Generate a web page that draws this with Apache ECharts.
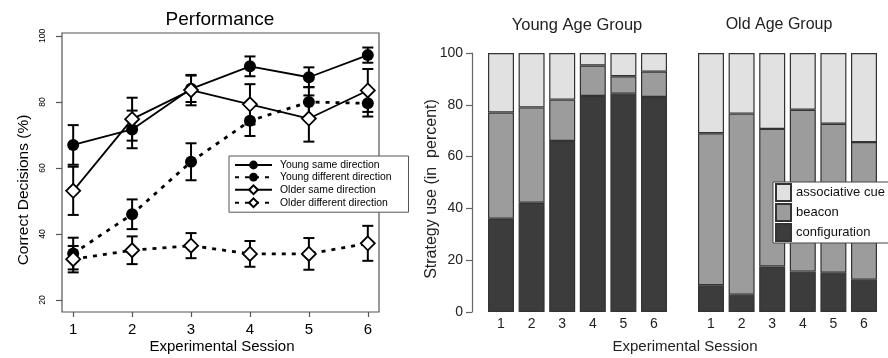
<!DOCTYPE html>
<html><head><meta charset="utf-8">
<script src="https://cdn.jsdelivr.net/npm/echarts@6/dist/echarts.min.js"></script>
<style>html,body{margin:0;padding:0;background:#fff}#c{width:888px;height:358px}</style>
</head><body><div id="c"></div><script>
// ---- Performance (left) ----
const sessions = [1, 2, 3, 4, 5, 6];
const youngSame = [67.0, 71.7, 84.0, 90.8, 87.5, 94.2];
const youngSameErr = [6.0, 5.7, 4.0, 3.0, 3.0, 2.3];
const youngDiff = [34.1, 46.0, 61.9, 74.3, 80.0, 79.6];
const youngDiffErr = [4.8, 4.5, 5.6, 4.6, 4.5, 4.0];
const olderSame = [53.1, 74.8, 83.6, 79.3, 75.0, 83.5];
const olderSameErr = [7.3, 6.5, 4.6, 6.1, 7.0, 6.5];
const olderDiff = [32.4, 35.1, 36.5, 34.0, 34.0, 37.2];
const olderDiffErr = [4.0, 4.2, 3.8, 3.9, 4.8, 5.3];
const perfTicks = [20, 40, 60, 80, 100];

// ---- Strategy use (right) ----
const sessionLabels = ['1', '2', '3', '4', '5', '6'];
const youngConfig = [36.0, 42.2, 66.0, 83.4, 84.3, 83.0];
const youngBeacon = [41.0, 36.8, 16.0, 11.8, 6.7, 9.8];
const youngAssoc = [23.0, 21.0, 18.0, 4.8, 9.0, 7.2];
const oldConfig = [10.3, 6.7, 17.6, 15.6, 15.2, 12.5];
const oldBeacon = [58.7, 69.9, 53.1, 62.5, 57.5, 53.1];
const oldAssoc = [31.0, 23.4, 29.3, 21.9, 27.3, 34.4];

const FONT = 'Liberation Sans, Arial, sans-serif';
const chart = echarts.init(document.getElementById('c'), null, {renderer: 'canvas'});

function pairs(v) { return sessions.map((s, i) => [s, v[i]]); }
function errSeries(v, e) {
  return {
    type: 'custom', xAxisIndex: 0, yAxisIndex: 0, z: 1, silent: true,
    data: sessions.map((s, i) => [s, v[i] - e[i], v[i] + e[i]]),
    encode: {x: 0, y: [1, 2]},
    renderItem(params, api) {
      const x = api.value(0);
      const lo = api.coord([x, api.value(1)]);
      const hi = api.coord([x, api.value(2)]);
      const hw = 5.5, st = {stroke: '#000', lineWidth: 2};
      return {type: 'group', children: [
        {type: 'line', shape: {x1: lo[0], y1: lo[1], x2: hi[0], y2: hi[1]}, style: st},
        {type: 'line', shape: {x1: lo[0] - hw, y1: lo[1], x2: lo[0] + hw, y2: lo[1]}, style: st},
        {type: 'line', shape: {x1: hi[0] - hw, y1: hi[1], x2: hi[0] + hw, y2: hi[1]}, style: st}
      ]};
    }
  };
}
function lineSeries(name, v, dashed, diamond) {
  return {
    name, type: 'line', xAxisIndex: 0, yAxisIndex: 0, z: 3, data: pairs(v),
    symbol: diamond ? 'diamond' : 'circle', symbolSize: diamond ? 14 : 12,
    lineStyle: {color: '#000', width: dashed ? 2.8 : 1.8, type: dashed ? [4, 6] : 'solid'},
    itemStyle: diamond ? {color: '#fff', borderColor: '#000', borderWidth: 1.8} : {color: '#000', borderColor: '#000', borderWidth: 0},
    emphasis: {disabled: true}, animation: false
  };
}
function barSeries(name, v, stack, gi, color) {
  return {
    name, type: 'bar', stack, xAxisIndex: gi, yAxisIndex: gi, data: v, barWidth: 26,
    itemStyle: {color, borderColor: '#333', borderWidth: 1.2},
    emphasis: {disabled: true}, animation: false
  };
}
const C_CONF = '#3c3c3c', C_BEAC = '#9c9c9c', C_ASSO = '#e1e1e1';

chart.setOption({
  animation: false,
  textStyle: {fontFamily: FONT},
  grid: [
    {left: 62, right: 509, top: 33, bottom: 46, show: true, borderColor: '#555', borderWidth: 1.2, backgroundColor: 'transparent'},
    {left: 485.7, width: 183.6, top: 53, bottom: 46},
    {left: 695.7, width: 183.6, top: 53, bottom: 46}
  ],
  xAxis: [
    {gridIndex: 0, type: 'value', min: 0.81, max: 6.19,
     axisLine: {show: false}, splitLine: {show: false},
     axisTick: {show: true, length: 5, customValues: sessions, lineStyle: {color: '#555', width: 1.2}},
     axisLabel: {customValues: sessions, fontSize: 15, color: '#000', margin: 10, fontFamily: FONT}},
    {gridIndex: 1, type: 'category', data: sessionLabels, axisLine: {show: false}, axisTick: {show: false},
     axisLabel: {fontSize: 14, color: '#222', margin: 5, fontFamily: FONT}},
    {gridIndex: 2, type: 'category', data: sessionLabels, axisLine: {show: false}, axisTick: {show: false},
     axisLabel: {fontSize: 14, color: '#222', margin: 5, fontFamily: FONT}}
  ],
  yAxis: [
    {gridIndex: 0, type: 'value', min: 16.4, max: 100.9, splitLine: {show: false},
     axisLine: {show: false},
     axisTick: {show: true, length: 6, customValues: perfTicks, lineStyle: {color: '#555', width: 1.2}},
     axisLabel: {customValues: perfTicks, rotate: 90, fontSize: 8.5, color: '#000', margin: 15, fontFamily: FONT}},
    {gridIndex: 1, type: 'value', min: 0, max: 100, interval: 20, offset: 13.7, splitLine: {show: false},
     axisLine: {show: true, lineStyle: {color: '#666', width: 1.2}},
     axisTick: {show: true, length: 6, lineStyle: {color: '#666', width: 1.2}},
     axisLabel: {fontSize: 14, color: '#222', margin: 9, fontFamily: FONT}},
    {gridIndex: 2, type: 'value', min: 0, max: 100, show: false}
  ],
  legend: [
    {data: ['Young same direction', 'Young different direction', 'Older same direction', 'Older different direction'],
     orient: 'vertical', left: 229, top: 156, itemWidth: 37, itemHeight: 11, itemGap: 2.2,
     backgroundColor: '#fff', borderColor: '#555', borderWidth: 1, borderRadius: 0, padding: [4, 17, 4, 5],
     selectedMode: false, textStyle: {fontSize: 10.4, color: '#000', fontFamily: FONT, padding: [0, 0, 0, 3]}},
    {data: ['associative cue', 'beacon', 'configuration'],
     orient: 'vertical', left: 773, top: 182, icon: 'rect', itemWidth: 15, itemHeight: 17, itemGap: 1,
     backgroundColor: '#fff', borderColor: '#444', borderWidth: 1, borderRadius: 0, padding: [1, 4, 1, 2],
     selectedMode: false, textStyle: {fontSize: 13, color: '#111', fontFamily: FONT}}
  ],
  graphic: [
    {type: 'text', x: 220, y: 20, style: {text: 'Performance', font: '19px ' + FONT, fill: '#000', textAlign: 'center', textVerticalAlign: 'middle'}},
    {type: 'text', x: 222, y: 347, style: {text: 'Experimental Session', font: '15px ' + FONT, fill: '#000', textAlign: 'center', textVerticalAlign: 'middle'}},
    {type: 'text', x: 24, y: 190, rotation: Math.PI / 2, style: {text: 'Correct Decisions (%)', font: '15.5px ' + FONT, fill: '#000', textAlign: 'center', textVerticalAlign: 'middle'}},
    {type: 'text', x: 577, y: 25, style: {text: 'Young Age Group', font: '16.5px ' + FONT, fill: '#222', textAlign: 'center', textVerticalAlign: 'middle'}},
    {type: 'text', x: 779, y: 25, style: {text: 'Old Age Group', font: '16px ' + FONT, fill: '#222', textAlign: 'center', textVerticalAlign: 'middle'}},
    {type: 'text', x: 432, y: 189, rotation: Math.PI / 2, style: {text: 'Strategy use (in  percent)', font: '16px ' + FONT, fill: '#222', textAlign: 'center', textVerticalAlign: 'middle'}},
    {type: 'text', x: 685, y: 347, style: {text: 'Experimental Session', font: '15px ' + FONT, fill: '#222', textAlign: 'center', textVerticalAlign: 'middle'}}
  ],
  series: [
    errSeries(youngSame, youngSameErr),
    errSeries(youngDiff, youngDiffErr),
    errSeries(olderSame, olderSameErr),
    errSeries(olderDiff, olderDiffErr),
    lineSeries('Young same direction', youngSame, false, false),
    lineSeries('Young different direction', youngDiff, true, false),
    lineSeries('Older same direction', olderSame, false, true),
    lineSeries('Older different direction', olderDiff, true, true),
    barSeries('configuration', youngConfig, 'y', 1, C_CONF),
    barSeries('beacon', youngBeacon, 'y', 1, C_BEAC),
    barSeries('associative cue', youngAssoc, 'y', 1, C_ASSO),
    barSeries('configuration', oldConfig, 'o', 2, C_CONF),
    barSeries('beacon', oldBeacon, 'o', 2, C_BEAC),
    barSeries('associative cue', oldAssoc, 'o', 2, C_ASSO)
  ]
});
</script></body></html>
